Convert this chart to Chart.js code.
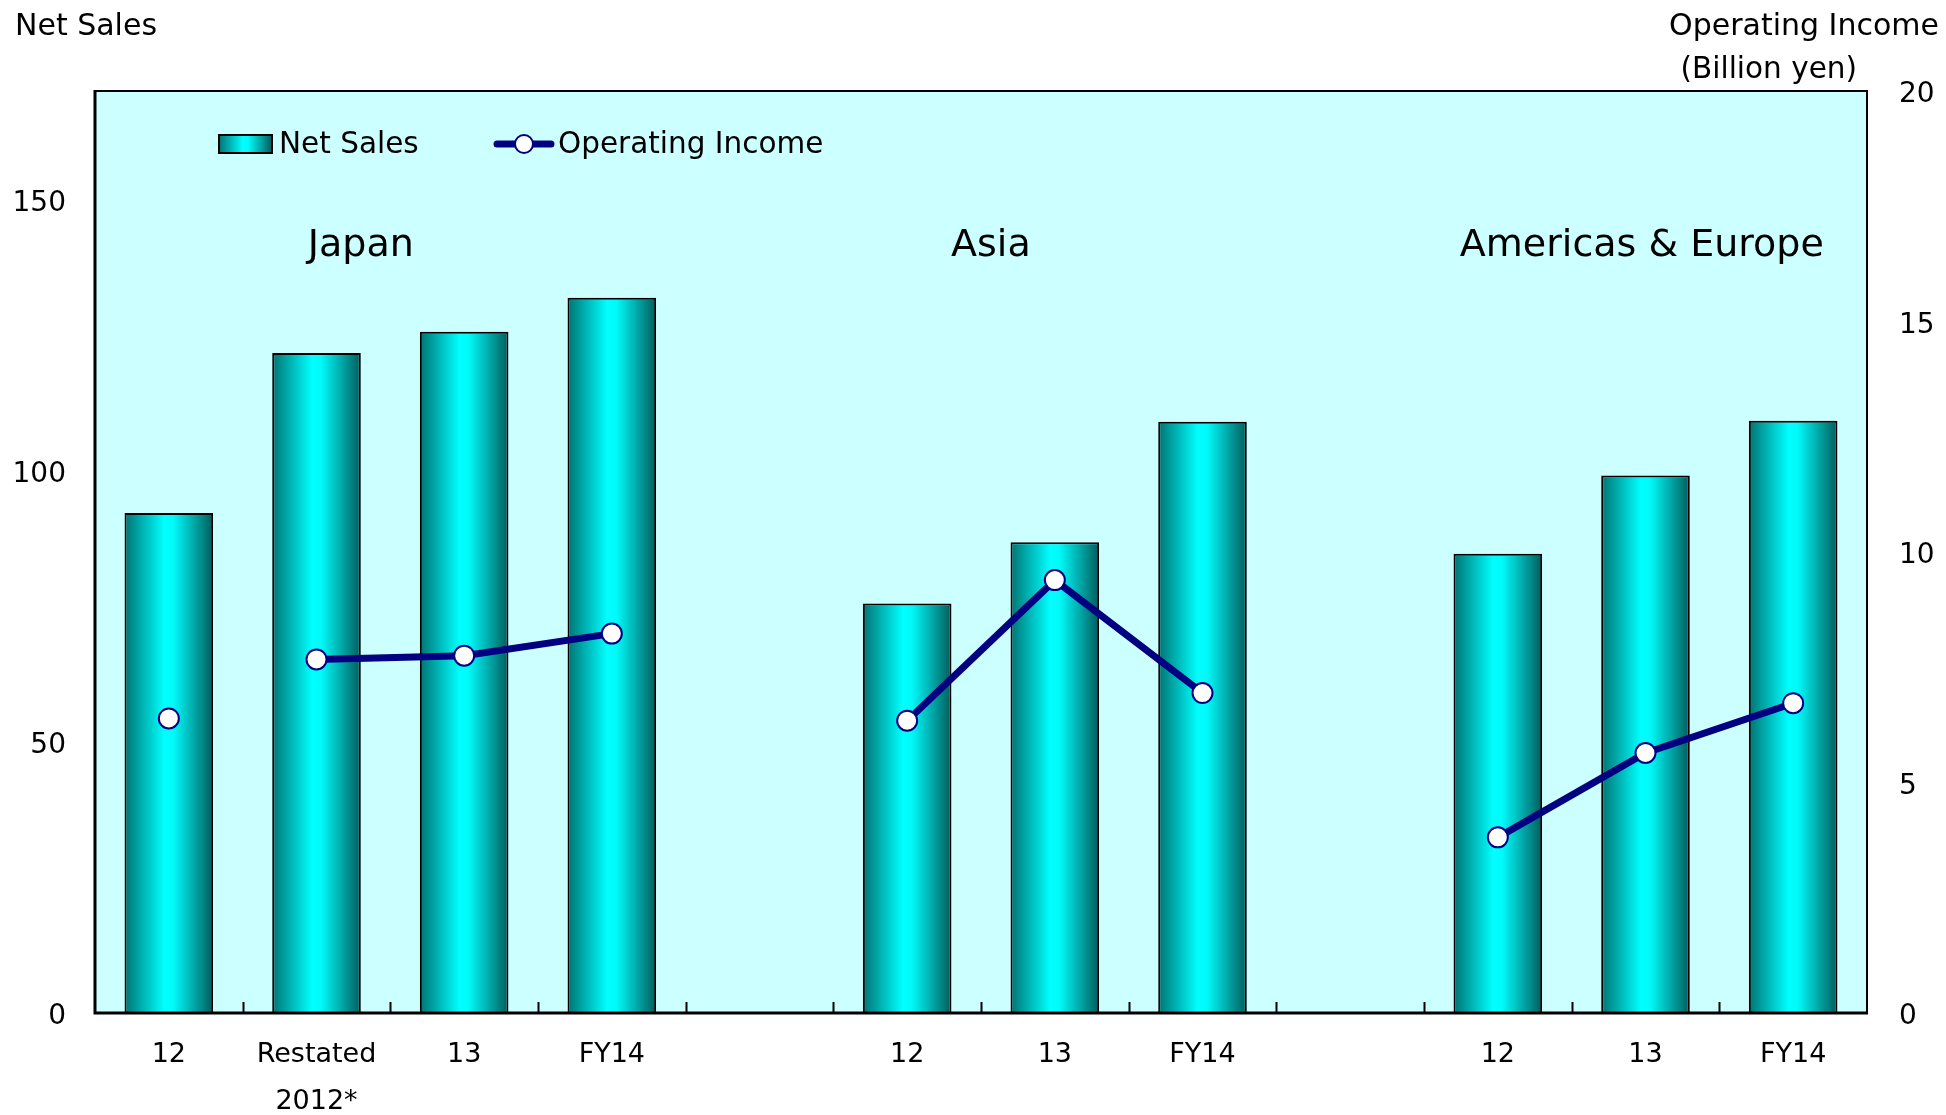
<!DOCTYPE html>
<html lang="en">
<head>
<meta charset="UTF-8">
<title>Net Sales and Operating Income by Region</title>
<script src="https://cdn.jsdelivr.net/npm/chart.js"></script>
<style>
    body { margin: 0; background: #fff; }
    #wrap { width: 1946px; height: 1115px; }
</style>
</head>
<body>
<div id="wrap"><canvas id="chart" width="1946" height="1115"></canvas></div>
<script>
    // '' slots are the empty gaps between the regions
    const categories = ['12', ['Restated', '2012*'], '13', 'FY14', '', '12', '13', 'FY14', '', '12', '13', 'FY14'];
    const regions = ['Japan', 'Asia', 'Americas & Europe'];
    // Billion yen
    const netSales = [92.2, 121.7, 125.6, 131.9, null, 75.5, 86.8, 109.0, null, 84.7, 99.1, 109.2];
    const operatingIncome = [6.39, 7.67, 7.75, 8.23, null, 6.34, 9.39, 6.94, null, 3.81, 5.64, 6.72];
    const salesTicks = [0, 50, 100, 150];
    const incomeTicks = [0, 5, 10, 15, 20];

    const FONT = '"DejaVu Sans", Verdana, sans-serif';
    const NAVY = '#000080';
    const BAR_PCT = 0.6;
    // where the region names sit, in category units
    const regionAt = [1.3, 5.567, 9.975];

    function cyanGradient(ctx, x0, x1) {
        const g = ctx.createLinearGradient(x0, 0, x1, 0);
        g.addColorStop(0, '#007373');
        g.addColorStop(0.45, '#00ffff');
        g.addColorStop(0.55, '#00fafa');
        g.addColorStop(1, '#005c5c');
        return g;
    }

    // each bar gets its own left-to-right gradient
    function barFill(c) {
        const x = c.chart.scales.x;
        if (!x || c.type !== 'data') return '#00cccc';
        const cx = x.getPixelForValue(c.dataIndex);
        const half = (x.getPixelForValue(1) - x.getPixelForValue(0)) * BAR_PCT / 2;
        if (!isFinite(cx) || !isFinite(half)) return '#00cccc';
        return cyanGradient(c.chart.ctx, cx - half, cx + half);
    }

    const decor = {
        id: 'decor',
        beforeDraw(chart) {
            const ctx = chart.ctx;
            ctx.save();
            ctx.fillStyle = '#fff';
            ctx.fillRect(0, 0, chart.width, chart.height);
            ctx.restore();
        },
        beforeDatasetsDraw(chart) {
            const ctx = chart.ctx, a = chart.chartArea, x = chart.scales.x;
            ctx.save();
            ctx.fillStyle = '#ccffff';
            ctx.fillRect(a.left, a.top, a.right - a.left, a.bottom - a.top);

            // region names
            ctx.fillStyle = '#000';
            ctx.font = '38px ' + FONT;
            ctx.textAlign = 'center';
            ctx.textBaseline = 'middle';
            regions.forEach((r, i) => ctx.fillText(r, x.getPixelForValue(regionAt[i]), 246));

            // legend
            ctx.fillStyle = cyanGradient(ctx, 219, 272);
            ctx.fillRect(219, 135, 53, 18);
            ctx.strokeStyle = '#000';
            ctx.lineWidth = 2;
            ctx.strokeRect(219, 135, 53, 18);
            ctx.strokeStyle = NAVY;
            ctx.lineWidth = 7;
            ctx.lineCap = 'round';
            ctx.beginPath();
            ctx.moveTo(497, 144);
            ctx.lineTo(551, 144);
            ctx.stroke();
            ctx.fillStyle = '#fff';
            ctx.lineWidth = 2;
            ctx.beginPath();
            ctx.arc(524, 144, 9, 0, Math.PI * 2);
            ctx.fill();
            ctx.stroke();
            ctx.fillStyle = '#000';
            ctx.font = '29.5px ' + FONT;
            ctx.textAlign = 'left';
            ctx.fillText('Net Sales', 279, 145);
            ctx.fillText('Operating Income', 558, 145);
            ctx.restore();
        },
        afterDatasetsDraw(chart) {
            const ctx = chart.ctx, a = chart.chartArea, x = chart.scales.x;
            ctx.save();
            ctx.strokeStyle = '#000';
            // small inward ticks between categories
            ctx.lineWidth = 2;
            ctx.beginPath();
            for (let i = 0; i < categories.length - 1; i++) {
                const px = Math.round((x.getPixelForValue(i) + x.getPixelForValue(i + 1)) / 2) + 0.5;
                ctx.moveTo(px, a.bottom);
                ctx.lineTo(px, a.bottom - 11);
            }
            ctx.stroke();
            // frame
            ctx.beginPath();
            ctx.moveTo(a.left, a.top);
            ctx.lineTo(a.right, a.top);
            ctx.lineTo(a.right, a.bottom);
            ctx.stroke();
            ctx.lineWidth = 3;
            ctx.beginPath();
            ctx.moveTo(a.left, a.top - 1);
            ctx.lineTo(a.left, a.bottom);
            ctx.lineTo(a.right + 1, a.bottom);
            ctx.stroke();
            ctx.restore();
        },
        afterDraw(chart) {
            const ctx = chart.ctx;
            ctx.save();
            ctx.fillStyle = '#000';
            ctx.textBaseline = 'middle';
            ctx.font = '30px ' + FONT;
            ctx.textAlign = 'left';
            ctx.fillText('Net Sales', 15, 27);
            ctx.textAlign = 'right';
            ctx.fillText('Operating Income', 1939, 27);
            ctx.font = '29.5px ' + FONT;
            ctx.fillText('(Billion yen)', 1857, 70);
            ctx.restore();
        }
    };

    new Chart(document.getElementById('chart'), {
        data: {
            labels: categories,
            datasets: [
                {
                    type: 'line',
                    label: 'Operating Income',
                    data: operatingIncome,
                    yAxisID: 'y2',
                    order: 0,
                    borderColor: NAVY,
                    borderWidth: 7,
                    pointRadius: 10,
                    pointBorderWidth: 2,
                    pointBackgroundColor: '#fff',
                    pointBorderColor: NAVY,
                    spanGaps: false,
                    segment: {
                        // restated figures are not joined to the old FY12 point
                        borderColor: s => s.p0DataIndex === 0 ? 'rgba(0,0,0,0)' : undefined
                    }
                },
                {
                    type: 'bar',
                    label: 'Net Sales',
                    data: netSales,
                    yAxisID: 'y',
                    order: 1,
                    backgroundColor: barFill,
                    borderColor: '#000',
                    borderWidth: 2,
                    barPercentage: BAR_PCT,
                    categoryPercentage: 1
                }
            ]
        },
        options: {
            responsive: false,
            animation: false,
            layout: { padding: { top: 91, left: 0, right: 0, bottom: 0 } },
            plugins: { legend: { display: false }, tooltip: { enabled: false } },
            scales: {
                x: {
                    grid: { display: false, drawTicks: false },
                    border: { display: false },
                    ticks: {
                        color: '#000',
                        font: { family: FONT, size: 27, lineHeight: 1.72 },
                        padding: 19,
                        maxRotation: 0,
                        autoSkip: false
                    },
                    afterFit: s => { s.height = 102; }
                },
                y: {
                    position: 'left',
                    min: 0,
                    max: 170,
                    grid: { display: false, drawTicks: false },
                    border: { display: false },
                    ticks: { color: '#000', font: { family: FONT, size: 28 }, padding: 29, labelOffset: 4 },
                    afterBuildTicks: s => { s.ticks = salesTicks.map(v => ({ value: v })); },
                    afterFit: s => { s.width = 95; }
                },
                y2: {
                    position: 'right',
                    min: 0,
                    max: 20,
                    grid: { display: false, drawTicks: false },
                    border: { display: false },
                    ticks: { color: '#000', font: { family: FONT, size: 28 }, padding: 32, labelOffset: 4 },
                    afterBuildTicks: s => { s.ticks = incomeTicks.map(v => ({ value: v })); },
                    afterFit: s => { s.width = 79; }
                }
            }
        },
        plugins: [decor]
    });
</script>
</body>
</html>
